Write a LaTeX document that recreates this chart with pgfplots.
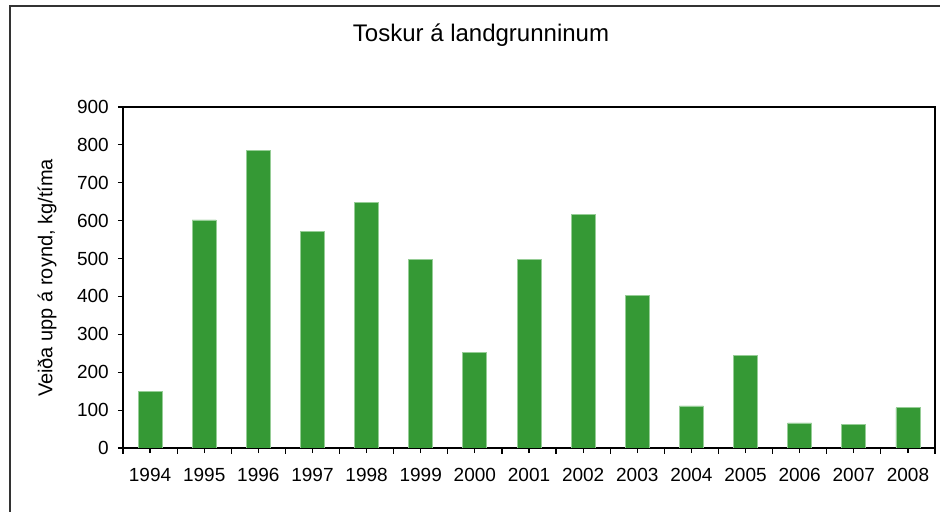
\documentclass[border=0pt]{standalone}
\usepackage{pgfplots}
\pgfplotsset{compat=1.18}
\usepackage{fontspec}
\setmainfont{Liberation Sans}
\definecolor{bargreen}{RGB}{53,153,53}
\definecolor{baredge}{RGB}{150,205,150}
\begin{document}
\begin{tikzpicture}
\useasboundingbox (0pt,0pt) rectangle (470pt,256pt);
\begin{scope}
\clip (0pt,0pt) rectangle (470pt,256pt);
\draw[line width=1pt, draw=black!80] (5pt,253pt) rectangle (480pt,-10pt);
\end{scope}
\node[font=\fontsize{12}{14}\selectfont] at (240.5pt,238.5pt) {Toskur á landgrunninum};
\node[rotate=90,font=\fontsize{10}{12}\selectfont] at (23.5pt,117pt) {Veiða upp á roynd, kg/tíma};
\begin{axis}[
  at={(61.5pt,32pt)}, anchor=south west,
  scale only axis, width=406pt, height=170.5pt,
  xmin=-0.5, xmax=14.5, ymin=0, ymax=900,
  ytick={0,100,...,900},
  xtick={0,...,14},
  xticklabels={1994,1995,1996,1997,1998,1999,2000,2001,2002,2003,2004,2005,2006,2007,2008},
  minor xtick={-0.5,0.5,...,14.5},
  tick align=outside,
  major tick length=2.6pt,
  minor tick length=3pt,
  ytick pos=left, xtick pos=bottom,
  tick style={black, line width=0.6pt},
  axis line style={line width=0.8pt},
  ticklabel style={font=\fontsize{9.5}{11}\selectfont},
  /pgf/number format/assume math mode=true,
  yticklabel style={xshift=-1pt},
  xticklabel style={yshift=-4pt},
]
\addplot[ybar, bar width=12pt, fill=bargreen, draw=baredge, line width=0.4pt]
  coordinates {(0,150) (1,602) (2,785) (3,572) (4,647) (5,498) (6,253) (7,498) (8,617) (9,403) (10,111) (11,245) (12,66) (13,61) (14,106)};
\end{axis}
\end{tikzpicture}
\end{document}
